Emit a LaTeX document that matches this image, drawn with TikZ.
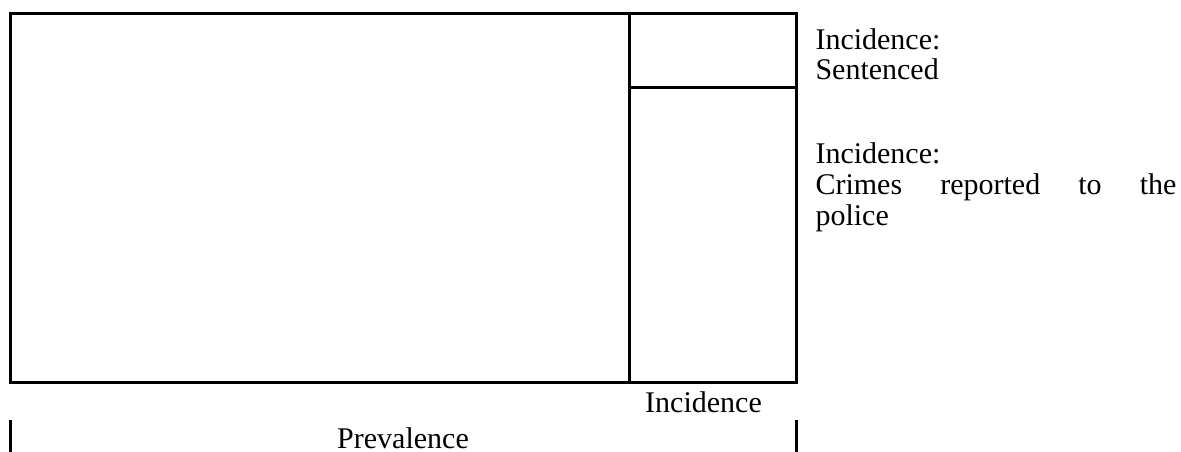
\documentclass[tikz,border=0pt]{standalone}
\usepackage{fontspec}
\setmainfont{Liberation Serif}
\tikzset{every picture/.style={line width=2.25pt}}
\tikzset{lbl/.style={inner sep=0pt, font=\fontsize{22.5}{23}\selectfont}}

\begin{document}
\begin{tikzpicture}[x=0.75pt,y=0.75pt,yscale=-1,xscale=1]
\useasboundingbox (0,0) rectangle (1181,452);

%Shape: Rectangle [prevalence box]
\draw   (10.5,14) -- (796,14) -- (796,382.5) -- (10.5,382.5) -- cycle ;
%Straight Lines [incidence column]
\draw    (629,14) -- (629,382.5) ;
%Straight Lines [sentenced split]
\draw    (629,87.7) -- (796,87.7) ;
%Straight Lines [left bar]
\draw    (10.5,420) -- (10.5,452) ;
%Straight Lines [right bar]
\draw    (796,420) -- (796,452) ;

% Text Node
\draw (814,27) node [anchor=north west][lbl,align=left] (sentenced) {Incidence:\\Sentenced};
% Text Node
\draw (814,141.5) node [anchor=north west][lbl,text width=270.75pt,align=justify] (reported) {Incidence:\\Crimes reported to the\linebreak police};
% Text Node
\draw (703.5,412.7) node [anchor=base][lbl] (incidence) {Incidence};
% Text Node
\draw (403,448) node [anchor=base][lbl] (prevalence) {Prevalence};

\end{tikzpicture}
\end{document}
